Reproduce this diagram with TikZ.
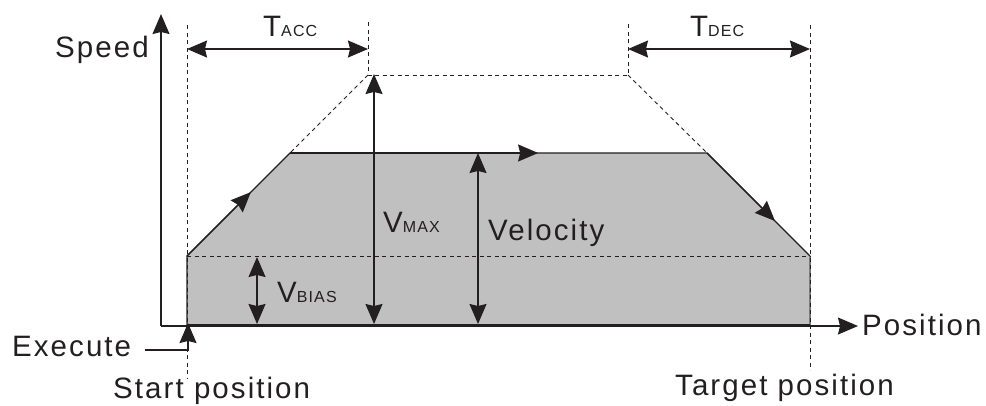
\documentclass[tikz,border=0pt]{standalone}
\usepackage{fontspec}
\setmainfont{Liberation Sans}[LetterSpace=7]
\usetikzlibrary{arrows.meta,calc}
\definecolor{fillgray}{RGB}{192,192,192}
\definecolor{ink}{RGB}{35,31,32}
\newcommand\subtx[1]{{\fontsize{16}{18}\selectfont #1}}
\tikzset{
  bighead/.tip={Stealth[length=20pt,width=17pt,inset=2pt]},
  lbl/.style={inner sep=0pt, anchor=base west, text=ink, font=\fontsize{29.5}{33}\selectfont},
  guide/.style={draw=ink, line width=0.9pt, dash pattern=on 4pt off 3.5pt},
  solidln/.style={draw=ink, line width=1.2pt},
  tip/.style={-bighead},
  dtip/.style={bighead-bighead}
}
\begin{document}
\begin{tikzpicture}[x=1pt,y=-1pt]
\useasboundingbox (0,0) rectangle (986,405);
% key points
\coordinate (O) at (161,326);
\coordinate (Ytop) at (161,14);
\coordinate (Xend) at (858,326);
\coordinate (BL) at (187,325);
\coordinate (S0) at (187,256);
\coordinate (A) at (290,153);
\coordinate (B) at (707,153);
\coordinate (C) at (810,256);
\coordinate (BR) at (810,325);
\coordinate (P) at (368,75);
\coordinate (Q) at (628,75);
% trapezoid
\fill[fillgray] (BL) -- (S0) -- (A) -- (B) -- (C) -- (BR) -- cycle;
\draw[solidln] (BL) -- (S0) -- (A) -- (B) -- (C);
\draw[draw=ink!60, line width=1.1pt] (C) -- (BR);
\draw[solidln] (BL) -- (BR);
% guides
\coordinate (g1t) at (187,25);  \coordinate (g1b) at (187,378);
\coordinate (g2t) at (368,22);
\coordinate (g3t) at (628,22);
\coordinate (g4t) at (810,25);  \coordinate (g4b) at (810,370);
\draw[guide] (g1t) -- (g1b);
\draw[guide] (g2t) -- (P) -- (Q) -- (g3t);
\draw[guide] (g4t) -- (g4b);
\draw[guide] (P) -- (A);
\draw[guide] (Q) -- (B);
\draw[guide] (S0) -- (C);
% axes
\draw[solidln, tip] (O) -- (Ytop);
\draw[solidln, tip] (O) -- (Xend);
% time spans
\coordinate (ta1) at (187,49); \coordinate (ta2) at (368,49);
\coordinate (td1) at (628,49); \coordinate (td2) at (810,49);
\draw[solidln, dtip] (ta1) -- (ta2);
\draw[solidln, dtip] (td1) -- (td2);
% direction arrows on profile
\draw[solidln, tip] (S0) -- ($(S0)!0.62!(A)$);
\draw[solidln, tip] (A) -- ($(A)!0.595!(B)$);
\draw[solidln, tip] (B) -- ($(B)!0.66!(C)$);
% magnitude arrows
\coordinate (vm1) at (374,74);  \coordinate (vm2) at (374,324);
\coordinate (ve1) at (478,153); \coordinate (ve2) at (478,324);
\coordinate (vb1) at (257,257); \coordinate (vb2) at (257,324);
\draw[solidln, dtip] (vm1) -- (vm2);
\draw[solidln, dtip] (ve1) -- (ve2);
\draw[solidln, dtip] (vb1) -- (vb2);
% labels
\node[lbl] (speed) at (55,57) {Speed};
\node[lbl] (tacc) at (263,36) {T\subtx{ACC}};
\node[lbl] (tdec) at (690,36) {T\subtx{DEC}};
\node[lbl] (vmax) at (383,232) {V\subtx{MAX}};
\node[lbl] (vel) at (488,240) {Velocity};
\node[lbl] (vbias) at (277,302) {V\subtx{BIAS}};
\node[lbl] (pos) at (862,335) {Position};
\node[lbl] (exec) at (12,356) {Execute};
\node[lbl] (start) at (113,398) {Start position};
\node[lbl] (target) at (675,395) {Target position};
% execute pointer
\coordinate (e1) at (145,350);
\coordinate (e2) at (188,350);
\coordinate (e3) at (188,323);
\draw[draw=ink, line width=1.1pt, -bighead] (e1) -- (e2) -- (e3);
\end{tikzpicture}
\end{document}
